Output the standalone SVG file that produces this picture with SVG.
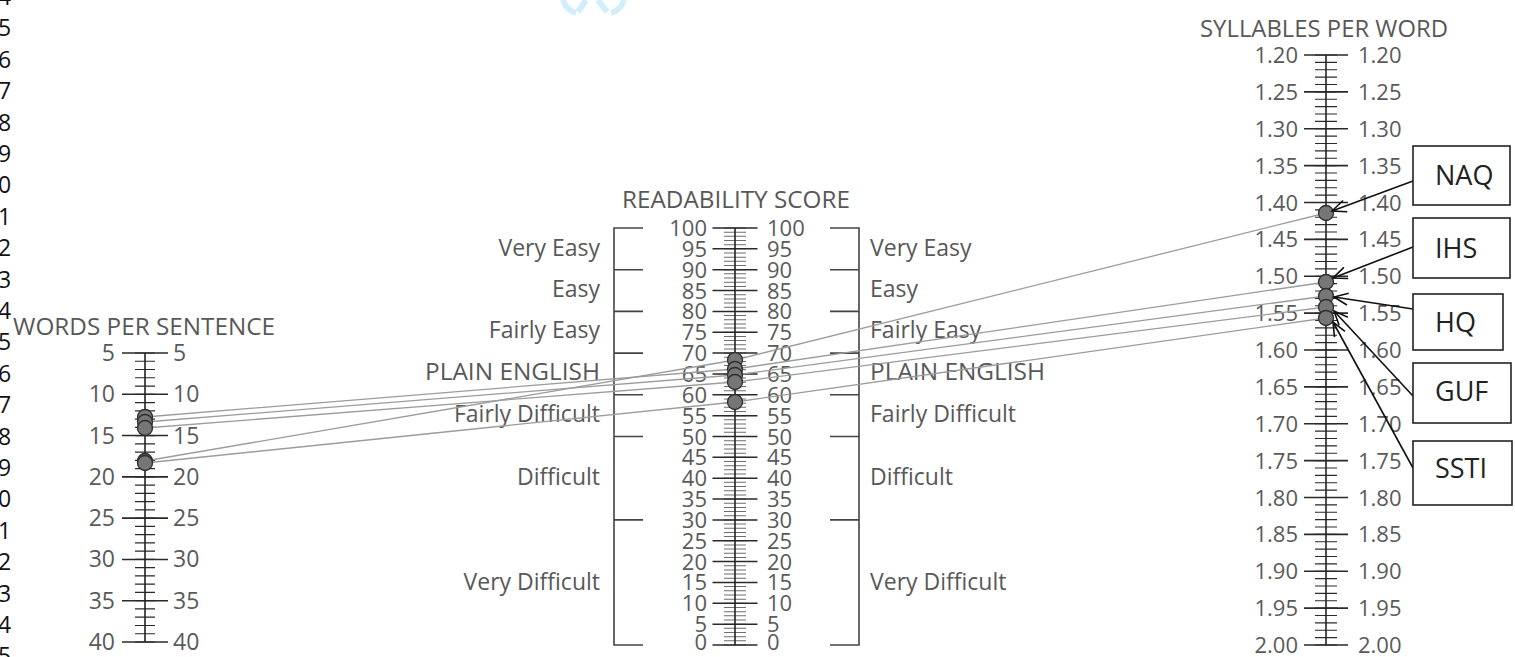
<svg xmlns="http://www.w3.org/2000/svg" width="1515" height="657" viewBox="0 0 1515 657">
<defs>
<style>
.t{font-family:"Open Sans","Noto Sans",sans-serif;fill:#585858;font-size:23px}
.n{font-family:"Open Sans","Noto Sans",sans-serif;fill:#5a5a5a;font-size:23px}
.m{font-family:"Open Sans","Noto Sans",sans-serif;fill:#5a5a5a;font-size:22px}
.rn{font-family:"Open Sans","Noto Sans",sans-serif;fill:#5a5a5a;font-size:22px}
.e{text-anchor:end}
.ln{font-family:"Open Sans","Noto Sans",sans-serif;fill:#111;font-size:23px}
.bx{font-family:"Open Sans","Noto Sans",sans-serif;fill:#222;font-size:27px}
.ax{stroke:#222;stroke-width:1.6;fill:none}
.tk{stroke:#2a2a2a;fill:none}
.br{stroke:#444;stroke-width:1.6;fill:none}
.dot{fill:#767676;stroke:#2e2e2e;stroke-width:1.3}
.con{stroke:#9c9c9c;stroke-width:1.3;fill:none}
.arr{stroke:#111;stroke-width:1.6;fill:none;marker-end:url(#ah)}
.box{fill:#fff;stroke:#222;stroke-width:1.6}
</style>
<marker id="ah" viewBox="-15 -8 17 16" refX="0" refY="0" markerWidth="17" markerHeight="16" markerUnits="userSpaceOnUse" orient="auto">
<path d="M-14,-6 L0,0 L-14,6" fill="none" stroke="#111" stroke-width="1.6"/>
</marker>
</defs>
<rect width="1515" height="657" fill="#fff"/>

<g id="watermark" stroke="#d3eefb" stroke-width="6" fill="none">
<path d="M563,0 Q566,10 576,13"/>
<path d="M586,0 L578,12"/>
<path d="M598,0 L607,12"/>
<path d="M624,0 Q621,10 611,13"/>
</g>

<g id="line-numbers">
<text class="ln" x="-2" y="5">4</text>
<text class="ln" x="-2" y="36.4">5</text>
<text class="ln" x="-2" y="67.8">6</text>
<text class="ln" x="-2" y="99.2">7</text>
<text class="ln" x="-2" y="130.6">8</text>
<text class="ln" x="-2" y="162">9</text>
<text class="ln" x="-2" y="193.4">0</text>
<text class="ln" x="-2" y="224.8">1</text>
<text class="ln" x="-2" y="256.2">2</text>
<text class="ln" x="-2" y="287.6">3</text>
<text class="ln" x="-2" y="319">4</text>
<text class="ln" x="-2" y="350.4">5</text>
<text class="ln" x="-2" y="381.8">6</text>
<text class="ln" x="-2" y="413.2">7</text>
<text class="ln" x="-2" y="444.6">8</text>
<text class="ln" x="-2" y="476">9</text>
<text class="ln" x="-2" y="507.4">0</text>
<text class="ln" x="-2" y="538.8">1</text>
<text class="ln" x="-2" y="570.2">2</text>
<text class="ln" x="-2" y="601.6">3</text>
<text class="ln" x="-2" y="633">4</text>
<text class="ln" x="-2" y="664.4">5</text>
</g>

<g id="words-per-sentence-scale">
<text class="t" x="13" y="335" textLength="262" lengthAdjust="spacingAndGlyphs">WORDS PER SENTENCE</text>
<line class="tk" x1="145" y1="352.4" x2="145" y2="642.6" stroke-width="20" stroke-dasharray="1.2 7.057"/>
<line class="tk" x1="145" y1="352.2" x2="145" y2="642.8" stroke-width="46" stroke-dasharray="1.6 39.685"/>
<line class="ax" x1="145" y1="353" x2="145" y2="642"/>
<text class="n e" x="115" y="361">5</text><text class="n" x="173" y="361">5</text>
<text class="n e" x="115" y="402.3">10</text><text class="n" x="173" y="402.3">10</text>
<text class="n e" x="115" y="443.6">15</text><text class="n" x="173" y="443.6">15</text>
<text class="n e" x="115" y="484.9">20</text><text class="n" x="173" y="484.9">20</text>
<text class="n e" x="115" y="526.1">25</text><text class="n" x="173" y="526.1">25</text>
<text class="n e" x="115" y="567.4">30</text><text class="n" x="173" y="567.4">30</text>
<text class="n e" x="115" y="608.7">35</text><text class="n" x="173" y="608.7">35</text>
<text class="n e" x="115" y="650">40</text><text class="n" x="173" y="650">40</text>
</g>

<g id="readability-scale">
<text class="t" x="622" y="208" textLength="228" lengthAdjust="spacingAndGlyphs">READABILITY SCORE</text>
<path class="br" d="M643,228 H614 V645 H643 M614,269.7 H643 M614,311.4 H643 M614,353.1 H643 M614,394.8 H643 M614,436.5 H643 M614,519.9 H643"/>
<path class="br" d="M830,228 H859 V645 H830 M830,269.7 H859 M830,311.4 H859 M830,353.1 H859 M830,394.8 H859 M830,436.5 H859 M830,519.9 H859"/>
<line x1="735" y1="227.5" x2="735" y2="645.5" stroke="#6e6e6e" stroke-width="22" stroke-dasharray="1 3.17"/>
<line class="tk" x1="735" y1="227.25" x2="735" y2="645.75" stroke-width="45" stroke-dasharray="1.5 19.35"/>
<line class="ax" x1="735" y1="228" x2="735" y2="645"/>
<text class="m e" x="707" y="236">100</text><text class="m" x="767" y="236">100</text>
<text class="m e" x="707" y="256.8">95</text><text class="m" x="767" y="256.8">95</text>
<text class="m e" x="707" y="277.7">90</text><text class="m" x="767" y="277.7">90</text>
<text class="m e" x="707" y="298.5">85</text><text class="m" x="767" y="298.5">85</text>
<text class="m e" x="707" y="319.4">80</text><text class="m" x="767" y="319.4">80</text>
<text class="m e" x="707" y="340.2">75</text><text class="m" x="767" y="340.2">75</text>
<text class="m e" x="707" y="361.1">70</text><text class="m" x="767" y="361.1">70</text>
<text class="m e" x="707" y="381.9">65</text><text class="m" x="767" y="381.9">65</text>
<text class="m e" x="707" y="402.8">60</text><text class="m" x="767" y="402.8">60</text>
<text class="m e" x="707" y="423.6">55</text><text class="m" x="767" y="423.6">55</text>
<text class="m e" x="707" y="444.5">50</text><text class="m" x="767" y="444.5">50</text>
<text class="m e" x="707" y="465.3">45</text><text class="m" x="767" y="465.3">45</text>
<text class="m e" x="707" y="486.2">40</text><text class="m" x="767" y="486.2">40</text>
<text class="m e" x="707" y="507">35</text><text class="m" x="767" y="507">35</text>
<text class="m e" x="707" y="527.9">30</text><text class="m" x="767" y="527.9">30</text>
<text class="m e" x="707" y="548.7">25</text><text class="m" x="767" y="548.7">25</text>
<text class="m e" x="707" y="569.6">20</text><text class="m" x="767" y="569.6">20</text>
<text class="m e" x="707" y="590.4">15</text><text class="m" x="767" y="590.4">15</text>
<text class="m e" x="707" y="611.3">10</text><text class="m" x="767" y="611.3">10</text>
<text class="m e" x="707" y="631.5">5</text><text class="m" x="767" y="631.5">5</text>
<text class="m e" x="707" y="649.5">0</text><text class="m" x="767" y="649.5">0</text>
<text class="t e" x="600" y="256">Very Easy</text><text class="t" x="870" y="256">Very Easy</text>
<text class="t e" x="600" y="297">Easy</text><text class="t" x="870" y="297">Easy</text>
<text class="t e" x="600" y="338">Fairly Easy</text><text class="t" x="870" y="338">Fairly Easy</text>
<text class="t e" x="600" y="380" textLength="175" lengthAdjust="spacingAndGlyphs">PLAIN ENGLISH</text><text class="t" x="870" y="380" textLength="175" lengthAdjust="spacingAndGlyphs">PLAIN ENGLISH</text>
<text class="t e" x="600" y="422">Fairly Difficult</text><text class="t" x="870" y="422">Fairly Difficult</text>
<text class="t e" x="600" y="485">Difficult</text><text class="t" x="870" y="485">Difficult</text>
<text class="t e" x="600" y="590">Very Difficult</text><text class="t" x="870" y="590">Very Difficult</text>
</g>

<g id="syllables-per-word-scale">
<text class="t" x="1200" y="37" textLength="248" lengthAdjust="spacingAndGlyphs">SYLLABLES PER WORD</text>
<line class="tk" x1="1326" y1="54.4" x2="1326" y2="645.6" stroke-width="22" stroke-dasharray="1.2 6.175"/>
<line class="tk" x1="1326" y1="54.2" x2="1326" y2="645.8" stroke-width="44" stroke-dasharray="1.6 35.275"/>
<line class="ax" x1="1326" y1="55" x2="1326" y2="645"/>
<text class="rn e" x="1298" y="63">1.20</text><text class="rn" x="1358" y="63">1.20</text>
<text class="rn e" x="1298" y="99.9">1.25</text><text class="rn" x="1358" y="99.9">1.25</text>
<text class="rn e" x="1298" y="136.8">1.30</text><text class="rn" x="1358" y="136.8">1.30</text>
<text class="rn e" x="1298" y="173.6">1.35</text><text class="rn" x="1358" y="173.6">1.35</text>
<text class="rn e" x="1298" y="210.5">1.40</text><text class="rn" x="1358" y="210.5">1.40</text>
<text class="rn e" x="1298" y="247.4">1.45</text><text class="rn" x="1358" y="247.4">1.45</text>
<text class="rn e" x="1298" y="284.3">1.50</text><text class="rn" x="1358" y="284.3">1.50</text>
<text class="rn e" x="1298" y="321.1">1.55</text><text class="rn" x="1358" y="321.1">1.55</text>
<text class="rn e" x="1298" y="358">1.60</text><text class="rn" x="1358" y="358">1.60</text>
<text class="rn e" x="1298" y="394.9">1.65</text><text class="rn" x="1358" y="394.9">1.65</text>
<text class="rn e" x="1298" y="431.8">1.70</text><text class="rn" x="1358" y="431.8">1.70</text>
<text class="rn e" x="1298" y="468.6">1.75</text><text class="rn" x="1358" y="468.6">1.75</text>
<text class="rn e" x="1298" y="505.5">1.80</text><text class="rn" x="1358" y="505.5">1.80</text>
<text class="rn e" x="1298" y="542.4">1.85</text><text class="rn" x="1358" y="542.4">1.85</text>
<text class="rn e" x="1298" y="579.3">1.90</text><text class="rn" x="1358" y="579.3">1.90</text>
<text class="rn e" x="1298" y="616.1">1.95</text><text class="rn" x="1358" y="616.1">1.95</text>
<text class="rn e" x="1298" y="653">2.00</text><text class="rn" x="1358" y="653">2.00</text>
</g>

<g id="connectors">
<polyline class="con" points="145,461 735,360 1326,213"/>
<polyline class="con" points="145,417 735,369 1326,282"/>
<polyline class="con" points="145,422 735,375 1326,296"/>
<polyline class="con" points="145,428 735,382 1326,307"/>
<polyline class="con" points="145,463 735,402 1326,318"/>
</g>

<g id="points">
<circle class="dot" cx="145" cy="417" r="7.5"/>
<circle class="dot" cx="145" cy="422" r="7.5"/>
<circle class="dot" cx="145" cy="428" r="7.5"/>
<circle class="dot" cx="145" cy="461" r="7.5"/>
<circle class="dot" cx="145" cy="463" r="7.5"/>
<circle class="dot" cx="735" cy="360" r="7.5"/>
<circle class="dot" cx="735" cy="369" r="7.5"/>
<circle class="dot" cx="735" cy="375" r="7.5"/>
<circle class="dot" cx="735" cy="382" r="7.5"/>
<circle class="dot" cx="735" cy="402" r="7.5"/>
<circle class="dot" cx="1326" cy="213" r="7.5"/>
<circle class="dot" cx="1326" cy="282" r="7.5"/>
<circle class="dot" cx="1326" cy="296" r="7.5"/>
<circle class="dot" cx="1326" cy="307" r="7.5"/>
<circle class="dot" cx="1326" cy="318" r="7.5"/>
</g>

<g id="pointer-arrows">
<line class="arr" x1="1413" y1="181" x2="1332" y2="211"/>
<line class="arr" x1="1413" y1="247" x2="1333" y2="278"/>
<line class="arr" x1="1413" y1="309" x2="1334" y2="297"/>
<line class="arr" x1="1413" y1="396" x2="1334" y2="311"/>
<line class="arr" x1="1413" y1="468" x2="1333" y2="322"/>
</g>

<g id="NAQ"><rect class="box" x="1413" y="146" width="97" height="59"/><text class="bx" x="1435" y="185">NAQ</text></g>
<g id="IHS"><rect class="box" x="1413" y="218" width="97" height="60"/><text class="bx" x="1435" y="258">IHS</text></g>
<g id="HQ"><rect class="box" x="1413" y="294" width="90" height="56"/><text class="bx" x="1435" y="332">HQ</text></g>
<g id="GUF"><rect class="box" x="1413" y="363" width="98" height="60"/><text class="bx" x="1435" y="401">GUF</text></g>
<g id="SSTI"><rect class="box" x="1413" y="441" width="99" height="64"/><text class="bx" x="1435" y="478">SSTI</text></g>
</svg>
